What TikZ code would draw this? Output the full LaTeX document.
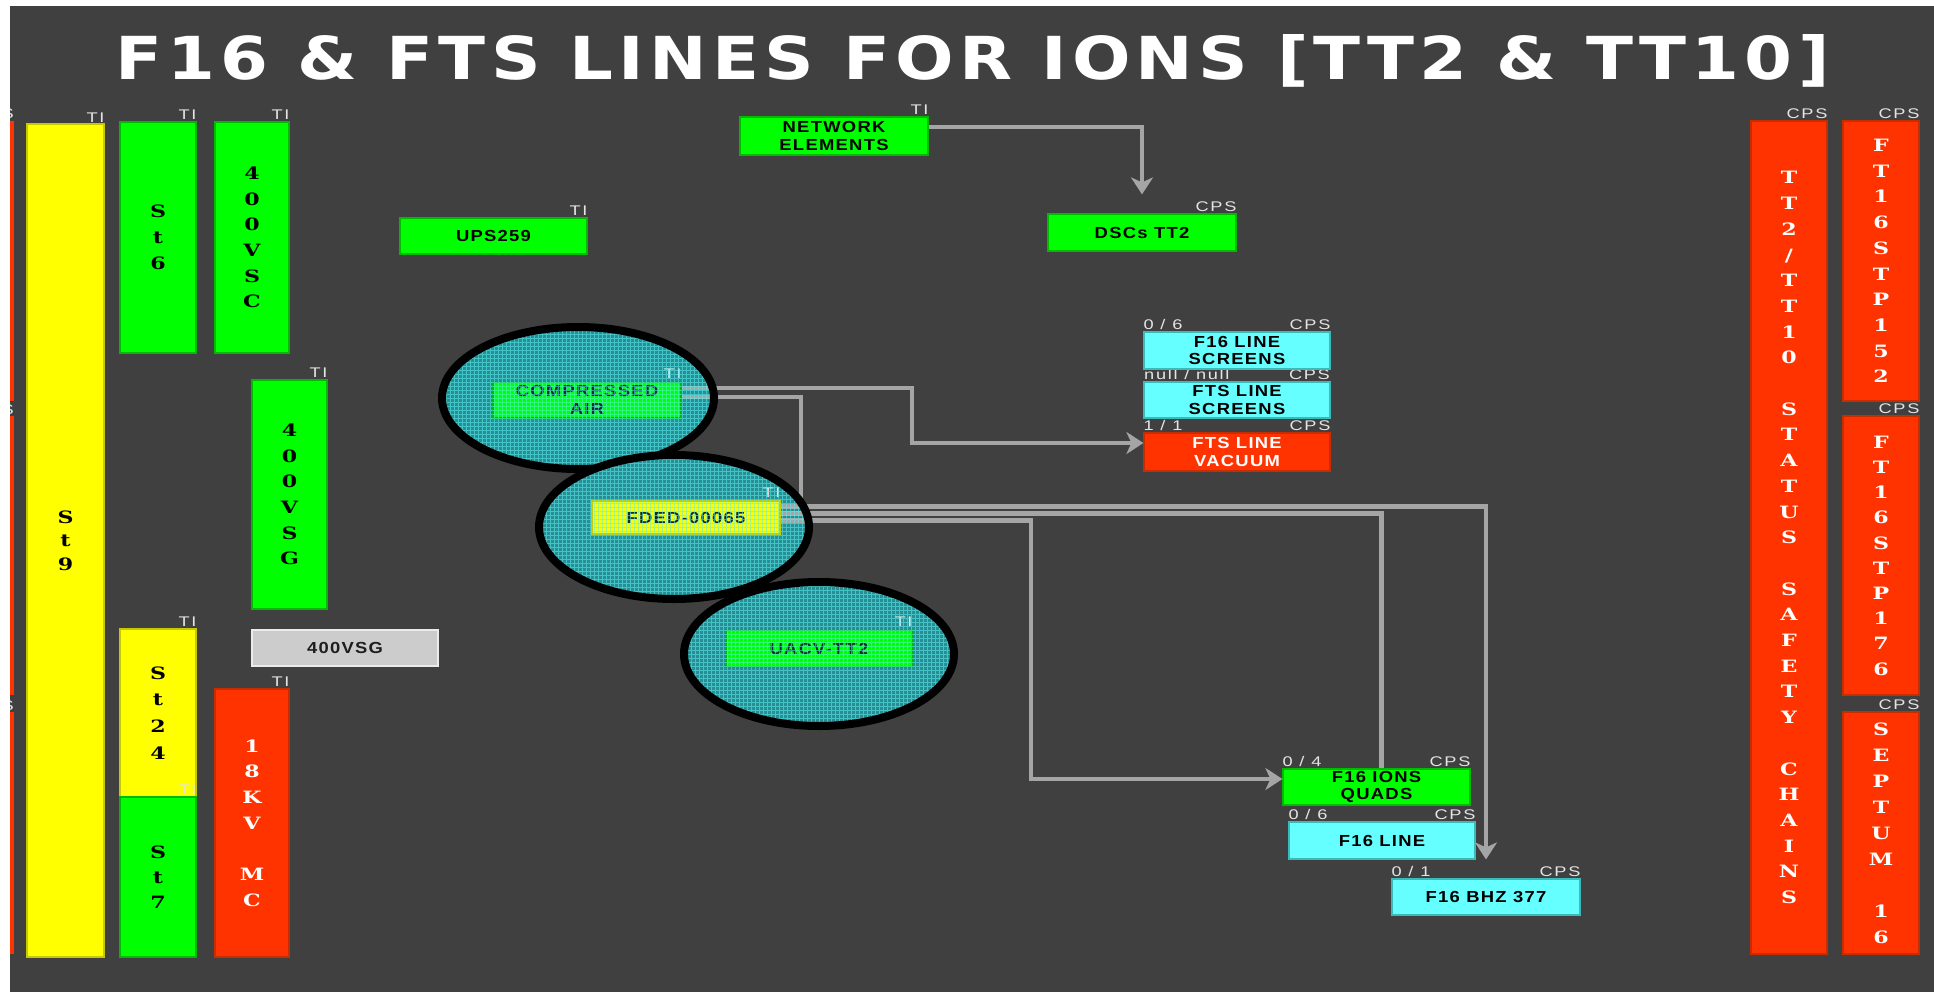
\documentclass[tikz,border=0pt]{standalone}
\usepackage{fontspec}
\usepackage{graphicx}
\usetikzlibrary{arrows.meta}
\newfontfamily\boxfont[FakeStretch=1.15,LetterSpace=8]{Liberation Sans}
\newfontfamily\labfont[FakeStretch=1.3,LetterSpace=12]{Liberation Sans}
\newfontfamily\vfont[FakeStretch=1.3]{DejaVu Serif}
\newfontfamily\titlefont[FakeStretch=0.8,LetterSpace=6]{DejaVu Sans}
\definecolor{bgcol}{RGB}{64,64,64}
\definecolor{hgreen}{RGB}{0,255,0}
\definecolor{hgreenb}{RGB}{0,185,0}
\definecolor{hyellow}{RGB}{255,255,0}
\definecolor{hyellowb}{RGB}{200,200,0}
\definecolor{hred}{RGB}{255,51,0}
\definecolor{hredb}{RGB}{200,45,0}
\definecolor{hcyan}{RGB}{102,255,255}
\definecolor{hcyanb}{RGB}{60,185,185}
\definecolor{hgray}{RGB}{204,204,204}
\definecolor{hgrayb}{RGB}{235,235,235}
\definecolor{darktext}{RGB}{30,30,30}
\definecolor{linkcol}{RGB}{165,165,165}
\definecolor{labcol}{RGB}{228,228,228}
\definecolor{elfill}{RGB}{40,142,148}
\definecolor{gridcol}{RGB}{90,240,240}
\definecolor{eltext}{RGB}{15,45,45}
\newcommand\mystack[2]{\vbox{\baselineskip=#1\relax\lineskiplimit=-1000pt\lineskip=0pt\relax\foreach \cc in {#2}{\hbox to 0pt{\hss\smash{\cc}\vphantom{T}\hss}}}}
\tikzset{
 bx/.style={draw, line width=1.2pt, inner sep=0pt, align=center, font=\boxfont\bfseries\fontsize{16}{17.5}\selectfont},
 gbox/.style={bx, fill=hgreen, draw=hgreenb, text=black},
 ybox/.style={bx, fill=hyellow, draw=hyellowb, text=black},
 rbox/.style={bx, fill=hred, draw=hredb, text=white},
 cbox/.style={bx, fill=hcyan, draw=hcyanb, text=black},
 greybox/.style={bx, fill=hgray, draw=hgrayb, text=darktext},
 tall/.style={font=\vfont\bfseries\fontsize{17}{17}\selectfont},
 lbl/.style={inner sep=0pt, text=labcol, font=\labfont\fontsize{14}{14}\selectfont},
 link/.style={draw=linkcol, line width=4.5pt},
 arr/.style={link, -{Stealth[length=17pt,width=22pt,inset=5pt]}},
 gridl/.style={draw=gridcol, line width=0.9pt, opacity=0.55, step=4pt},
 elb/.style={draw=black, line width=8pt},
}
\begin{document}
\begin{tikzpicture}[x=1pt,y=-1pt]
\useasboundingbox (0,0) rectangle (1934,992);
\fill[white] (0,0) rectangle (1934,992);
\fill[bgcol] (10,6) rectangle (1934,992);

% title
\node[anchor=base west, inner sep=0pt, text=white] (title) at (115,80)
  {\resizebox{1714pt}{45pt}{\titlefont\bfseries F16 \& FTS LINES FOR IONS [TT2 \& TT10]}};

% cut-off column at the left edge
\fill[hred] (10,121) rectangle (14,401);
\fill[hred] (10,416) rectangle (14,695);
\fill[hred] (10,712) rectangle (14,954);
\begin{scope}
\clip (10,0) rectangle (1934,992);
\node[lbl, anchor=base east] (lcps1) at (14,119) {CPS};
\node[lbl, anchor=base east] (lcps2) at (14,414) {CPS};
\node[lbl, anchor=base east] (lcps3) at (14,710) {CPS};
\end{scope}

% left column boxes
\node[ybox,tall,minimum width=77pt,minimum height=833pt] (st9) at (65.5,540.5) {\mystack{23.5pt}{S,t,9}};
\node[gbox,tall,minimum width=76pt,minimum height=231pt] (st6) at (158,237.5) {\mystack{26pt}{S,t,6}};
\node[gbox,tall,minimum width=74pt,minimum height=231pt] (vsc) at (252,237.5) {\mystack{25.6pt}{4,0,0,V,S,C}};
\node[gbox,tall,minimum width=75pt,minimum height=229pt] (vsg) at (289.5,494.5) {\mystack{25.6pt}{4,0,0,V,S,G}};
\node[greybox,minimum width=186pt,minimum height=36pt] (vsgbar) at (345,648) {400VSG};
\node[ybox,tall,minimum width=76pt,minimum height=168pt] (st24) at (158,713) {\mystack{26.7pt}{S,t,2,4}};
\node[gbox,tall,minimum width=76pt,minimum height=160pt] (st7) at (158,877) {\mystack{25pt}{S,t,7}};
\node[rbox,tall,minimum width=74pt,minimum height=268pt] (kv18) at (252,823) {\mystack{25.7pt}{1,8,K,V,{},M,C}};

\node[lbl,anchor=base east] (st9ti) at ([yshift=1pt]st9.north east) {TI};
\node[lbl,anchor=base east] (st6ti) at ([yshift=2pt]st6.north east) {TI};
\node[lbl,anchor=base east] (vscti) at ([yshift=2pt]vsc.north east) {TI};
\node[lbl,anchor=base east] (vsgti) at ([yshift=2pt]vsg.north east) {TI};
\node[lbl,anchor=base east] (st24ti) at ([yshift=2pt]st24.north east) {TI};
\node[lbl,anchor=base east] (st7ti) at ([yshift=2pt]st7.north east) {TI};
\node[lbl,anchor=base east] (kv18ti) at ([yshift=2pt]kv18.north east) {TI};

% middle boxes
\node[gbox,minimum width=187pt,minimum height=36pt] (ups) at (493.5,236) {UPS259};
\node[gbox,minimum width=188pt,minimum height=38pt] (net) at (834,136) {NETWORK\\ELEMENTS};
\node[gbox,minimum width=188pt,minimum height=37pt] (dscs) at (1142,232.5) {DSCs TT2};
\node[lbl,anchor=base east] (upsti) at ([yshift=2pt]ups.north east) {TI};
\node[lbl,anchor=base east] (netti) at ([yshift=2pt]net.north east) {TI};
\node[lbl,anchor=base east] (dscscps) at ([yshift=2pt]dscs.north east) {CPS};

% right boxes
\node[lbl,anchor=base west] (ftsscrn) at (1144,379) {null / null};
\node[lbl,anchor=base east] (ftsscrc) at (1330,379) {CPS};
\node[cbox,minimum width=186pt,minimum height=37pt] (f16scr) at (1237,350.5) {F16 LINE\\SCREENS};
\node[cbox,minimum width=186pt,minimum height=36pt] (ftsscr) at (1237,400) {FTS LINE\\SCREENS};
\node[rbox,minimum width=186pt,minimum height=38pt] (vac) at (1237,452) {FTS LINE\\VACUUM};
\node[gbox,minimum width=187pt,minimum height=36pt] (quads) at (1376.5,787) {F16 IONS\\QUADS};
\node[cbox,minimum width=186pt,minimum height=37pt] (f16line) at (1382,840.5) {F16 LINE};
\node[cbox,minimum width=188pt,minimum height=36pt] (bhz) at (1486,897) {F16 BHZ 377};

\node[lbl,anchor=base west] (f16scrn) at ([yshift=2pt]f16scr.north west) {0 / 6};
\node[lbl,anchor=base east] (f16scrc) at ([yshift=2pt]f16scr.north east) {CPS};
\node[lbl,anchor=base west] (vacn) at ([yshift=2pt]vac.north west) {1 / 1};
\node[lbl,anchor=base east] (vacc) at ([yshift=2pt]vac.north east) {CPS};
\node[lbl,anchor=base west] (quadsn) at ([yshift=2pt]quads.north west) {0 / 4};
\node[lbl,anchor=base east] (quadsc) at ([yshift=2pt]quads.north east) {CPS};
\node[lbl,anchor=base west] (f16linen) at ([yshift=2pt]f16line.north west) {0 / 6};
\node[lbl,anchor=base east] (f16linec) at ([yshift=2pt]f16line.north east) {CPS};
\node[lbl,anchor=base west] (bhzn) at ([yshift=2pt]bhz.north west) {0 / 1};
\node[lbl,anchor=base east] (bhzc) at ([yshift=2pt]bhz.north east) {CPS};

% right column
\node[rbox,tall,minimum width=76pt,minimum height=833pt] (tt2) at (1789,537.5) {\mystack{25.7pt}{T,T,2,{/},T,T,1,0,{},S,T,A,T,U,S,{},S,A,F,E,T,Y,{},C,H,A,I,N,S}};
\node[rbox,tall,minimum width=76pt,minimum height=280pt] (stp152) at (1881,261) {\mystack{25.7pt}{F,T,1,6,S,T,P,1,5,2}};
\node[rbox,tall,minimum width=76pt,minimum height=279pt] (stp176) at (1881,555.5) {\mystack{25.2pt}{F,T,1,6,S,T,P,1,7,6}};
\node[rbox,tall,minimum width=76pt,minimum height=242pt] (septum) at (1881,833) {\mystack{26pt}{S,E,P,T,U,M,{},1,6}};
\node[lbl,anchor=base east] (tt2c) at ([yshift=2pt]tt2.north east) {CPS};
\node[lbl,anchor=base east] (stp152c) at ([yshift=2pt]stp152.north east) {CPS};
\node[lbl,anchor=base east] (stp176c) at ([yshift=2pt]stp176.north east) {CPS};
\node[lbl,anchor=base east] (septumc) at ([yshift=2pt]septum.north east) {CPS};

% network connector
\draw[arr] ([yshift=9pt]net.east) -| ([yshift=19pt]dscs.north);

% helper coordinates
\coordinate (vac9) at ([yshift=9pt]vac.west);
\coordinate (q8) at ([yshift=8pt]quads.west);
\coordinate (k1) at (912,0);
\coordinate (k2) at (1031,0);
\coordinate (kjoin) at (801,506);

% ellipse 1: compressed air
\coordinate (cae) at (578,398);
\fill[elfill] (cae) ellipse [x radius=136pt, y radius=71pt];
\node[gbox,minimum width=188pt,minimum height=36pt,text=eltext] (ca) at (587,400) {COMPRESSED\\AIR};
\node[lbl,anchor=base east] (cati) at ([yshift=3pt]ca.north east) {TI};
\draw[link] ([yshift=3pt]ca.east) -| (kjoin);
\draw[arr] ([yshift=12pt]ca.east) -| (k1 |- vac9) -- (vac9);
\begin{scope}
\clip (cae) ellipse [x radius=136pt, y radius=71pt];
\draw[gridl, shift={(cae)}] (-140,-80) grid (140,80);
\end{scope}
\draw[elb] (cae) ellipse [x radius=136pt, y radius=71pt];

% ellipse 2: FDED-00065
\coordinate (fde) at (674,527);
\fill[elfill] (fde) ellipse [x radius=135pt, y radius=72pt];
\node[ybox,minimum width=188pt,minimum height=33pt,text=eltext] (fded) at (686,517.5) {FDED-00065};
\node[lbl,anchor=base east] (fdedti) at ([yshift=3pt]fded.north east) {TI};
\draw[arr] ([yshift=11pt]fded.east) -| ([yshift=19pt]bhz.north);
\draw[link] ([yshift=4pt]fded.east) -| ([xshift=5pt]quads.north);
\draw[arr] ([yshift=-3pt]fded.east) -| (k2 |- q8) -- (q8);
\begin{scope}
\clip (fde) ellipse [x radius=135pt, y radius=72pt];
\draw[gridl, shift={(fde)}] (-140,-80) grid (140,80);
\end{scope}
\draw[elb] (fde) ellipse [x radius=135pt, y radius=72pt];

% ellipse 3: UACV-TT2
\coordinate (uae) at (819,654);
\fill[elfill] (uae) ellipse [x radius=135pt, y radius=72pt];
\node[gbox,minimum width=186pt,minimum height=37pt,text=eltext] (uacv) at (819,648.5) {UACV-TT2};
\node[lbl,anchor=base east] (uacvti) at ([yshift=3pt]uacv.north east) {TI};
\begin{scope}
\clip (uae) ellipse [x radius=135pt, y radius=72pt];
\draw[gridl, shift={(uae)}] (-140,-80) grid (140,80);
\end{scope}
\draw[elb] (uae) ellipse [x radius=135pt, y radius=72pt];
\end{tikzpicture}
\end{document}
